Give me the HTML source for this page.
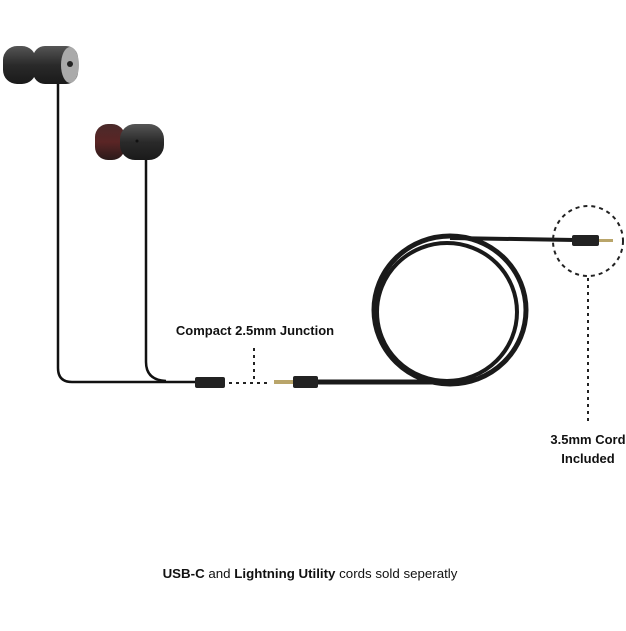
<!DOCTYPE html>
<html><head><style>
body{margin:0;background:#fff;}
svg text{font-family:"Liberation Sans",Arial,sans-serif;font-weight:bold;fill:#111;}
</style></head><body>
<svg width="626" height="626" viewBox="0 0 626 626" xmlns="http://www.w3.org/2000/svg">
<defs>
<linearGradient id="g1" x1="0" y1="0" x2="0" y2="1"><stop offset="0" stop-color="#555"/><stop offset="0.5" stop-color="#2a2a2a"/><stop offset="1" stop-color="#1a1a1a"/></linearGradient>
<linearGradient id="g2" x1="0" y1="0" x2="0" y2="1"><stop offset="0" stop-color="#4a2a2a"/><stop offset="0.5" stop-color="#5a2525"/><stop offset="1" stop-color="#2a1a1a"/></linearGradient>
</defs>
<path d="M58 82 L58 368 Q58 382 72 382 L198 382" fill="none" stroke="#111" stroke-width="2.5"/>
<path d="M146 158 L146 362 Q146 380 166 381" fill="none" stroke="#111" stroke-width="2.5"/>
<rect x="3" y="46" width="33" height="38" rx="14" fill="url(#g1)"/>
<rect x="33" y="46" width="45" height="38" rx="12" fill="url(#g1)"/>
<ellipse cx="70" cy="65" rx="9" ry="18" fill="#aaa"/>
<circle cx="70" cy="64" r="3" fill="#222"/>
<rect x="95" y="124" width="30" height="36" rx="13" fill="url(#g2)"/>
<rect x="120" y="124" width="44" height="36" rx="15" fill="url(#g1)"/>
<circle cx="137" cy="141" r="1.5" fill="#111"/>
<rect x="195" y="377" width="30" height="11" rx="2" fill="#222"/>
<line x1="229" y1="383" x2="270" y2="383" stroke="#222" stroke-width="2" stroke-dasharray="3,4"/>
<line x1="254" y1="348" x2="254" y2="383" stroke="#222" stroke-width="2" stroke-dasharray="3,4"/>
<text x="255" y="335" font-size="13" text-anchor="middle">Compact 2.5mm Junction</text>
<rect x="274" y="380" width="19" height="4" fill="#b9a56a"/>
<rect x="293" y="376" width="25" height="12" rx="2" fill="#222"/>
<path d="M318 382 L440 382" stroke="#1a1a1a" stroke-width="5" fill="none"/>
<ellipse cx="450" cy="310" rx="76" ry="74" fill="none" stroke="#1a1a1a" stroke-width="5"/>
<ellipse cx="447" cy="312" rx="70" ry="69" fill="none" stroke="#1a1a1a" stroke-width="4"/>
<path d="M450 238 L575 240" stroke="#1a1a1a" stroke-width="4" fill="none"/>
<rect x="572" y="235" width="27" height="11" rx="2" fill="#222"/>
<rect x="599" y="239" width="14" height="3" fill="#b9a56a"/>
<circle cx="588" cy="241" r="35" fill="none" stroke="#222" stroke-width="2" stroke-dasharray="4,4"/>
<line x1="588" y1="278" x2="588" y2="425" stroke="#222" stroke-width="2" stroke-dasharray="3,4"/>
<text x="588" y="444" font-size="13" text-anchor="middle">3.5mm Cord</text>
<text x="588" y="463" font-size="13" text-anchor="middle">Included</text>
<text x="310" y="578" font-size="13.3" text-anchor="middle">USB-C <tspan font-weight="normal">and</tspan> Lightning Utility <tspan font-weight="normal">cords sold seperatly</tspan></text>
</svg>
</body></html>
